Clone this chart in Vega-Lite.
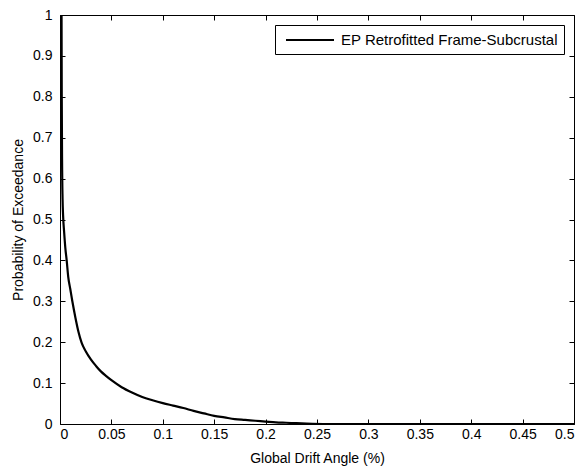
{
  "$schema": "https://vega.github.io/schema/vega-lite/v6.json",
  "width": 514,
  "height": 409,
  "autosize": {"type": "none"},
  "padding": {"left": 60, "top": 15, "right": 11, "bottom": 44},
  "background": "white",
  "config": {
    "font": "Liberation Sans",
    "view": {"stroke": "black", "strokeWidth": 1},
    "axis": {
      "grid": false,
      "domain": false,
      "tickColor": "black",
      "labelColor": "black",
      "titleColor": "black",
      "labelFont": "Liberation Sans",
      "titleFont": "Liberation Sans",
      "labelFontSize": 14,
      "titleFontSize": 14,
      "titleFontWeight": "normal",
      "tickSize": 5,
      "offset": -5
    }
  },
  "data": {
    "values": [
      {"x": 0.0015, "y": 1.0, "s": "EP Retrofitted Frame-Subcrustal"},
      {"x": 0.0017, "y": 0.8, "s": "EP Retrofitted Frame-Subcrustal"},
      {"x": 0.002, "y": 0.65, "s": "EP Retrofitted Frame-Subcrustal"},
      {"x": 0.0025, "y": 0.55, "s": "EP Retrofitted Frame-Subcrustal"},
      {"x": 0.003, "y": 0.51, "s": "EP Retrofitted Frame-Subcrustal"},
      {"x": 0.004, "y": 0.47, "s": "EP Retrofitted Frame-Subcrustal"},
      {"x": 0.0052, "y": 0.43, "s": "EP Retrofitted Frame-Subcrustal"},
      {"x": 0.0065, "y": 0.4, "s": "EP Retrofitted Frame-Subcrustal"},
      {"x": 0.008, "y": 0.36, "s": "EP Retrofitted Frame-Subcrustal"},
      {"x": 0.01, "y": 0.33, "s": "EP Retrofitted Frame-Subcrustal"},
      {"x": 0.012, "y": 0.3, "s": "EP Retrofitted Frame-Subcrustal"},
      {"x": 0.015, "y": 0.26, "s": "EP Retrofitted Frame-Subcrustal"},
      {"x": 0.018, "y": 0.225, "s": "EP Retrofitted Frame-Subcrustal"},
      {"x": 0.021, "y": 0.199, "s": "EP Retrofitted Frame-Subcrustal"},
      {"x": 0.025, "y": 0.178, "s": "EP Retrofitted Frame-Subcrustal"},
      {"x": 0.03, "y": 0.158, "s": "EP Retrofitted Frame-Subcrustal"},
      {"x": 0.035, "y": 0.142, "s": "EP Retrofitted Frame-Subcrustal"},
      {"x": 0.04, "y": 0.128, "s": "EP Retrofitted Frame-Subcrustal"},
      {"x": 0.045, "y": 0.117, "s": "EP Retrofitted Frame-Subcrustal"},
      {"x": 0.05, "y": 0.107, "s": "EP Retrofitted Frame-Subcrustal"},
      {"x": 0.06, "y": 0.09, "s": "EP Retrofitted Frame-Subcrustal"},
      {"x": 0.07, "y": 0.077, "s": "EP Retrofitted Frame-Subcrustal"},
      {"x": 0.08, "y": 0.066, "s": "EP Retrofitted Frame-Subcrustal"},
      {"x": 0.09, "y": 0.058, "s": "EP Retrofitted Frame-Subcrustal"},
      {"x": 0.1, "y": 0.051, "s": "EP Retrofitted Frame-Subcrustal"},
      {"x": 0.11, "y": 0.045, "s": "EP Retrofitted Frame-Subcrustal"},
      {"x": 0.12, "y": 0.039, "s": "EP Retrofitted Frame-Subcrustal"},
      {"x": 0.13, "y": 0.032, "s": "EP Retrofitted Frame-Subcrustal"},
      {"x": 0.14, "y": 0.026, "s": "EP Retrofitted Frame-Subcrustal"},
      {"x": 0.15, "y": 0.02, "s": "EP Retrofitted Frame-Subcrustal"},
      {"x": 0.16, "y": 0.016, "s": "EP Retrofitted Frame-Subcrustal"},
      {"x": 0.17, "y": 0.012, "s": "EP Retrofitted Frame-Subcrustal"},
      {"x": 0.18, "y": 0.01, "s": "EP Retrofitted Frame-Subcrustal"},
      {"x": 0.19, "y": 0.008, "s": "EP Retrofitted Frame-Subcrustal"},
      {"x": 0.2, "y": 0.006, "s": "EP Retrofitted Frame-Subcrustal"},
      {"x": 0.21, "y": 0.004, "s": "EP Retrofitted Frame-Subcrustal"},
      {"x": 0.22, "y": 0.003, "s": "EP Retrofitted Frame-Subcrustal"},
      {"x": 0.23, "y": 0.002, "s": "EP Retrofitted Frame-Subcrustal"},
      {"x": 0.24, "y": 0.001, "s": "EP Retrofitted Frame-Subcrustal"},
      {"x": 0.26, "y": 0.0, "s": "EP Retrofitted Frame-Subcrustal"},
      {"x": 0.5, "y": 0.0, "s": "EP Retrofitted Frame-Subcrustal"}
    ]
  },
  "resolve": {"axis": {"x": "independent", "y": "independent"}},
  "layer": [
    {
      "mark": {"type": "line", "strokeWidth": 2.2, "clip": true, "interpolate": "monotone"},
      "encoding": {
        "x": {
          "field": "x",
          "type": "quantitative",
          "scale": {"domain": [0, 0.5], "nice": false, "zero": false},
          "axis": {
            "title": "Global Drift Angle (%)",
            "values": [0, 0.05, 0.1, 0.15, 0.2, 0.25, 0.3, 0.35, 0.4, 0.45, 0.5],
            "format": "~g",
            "labelPadding": 3,
            "titlePadding": 10
          }
        },
        "y": {
          "field": "y",
          "type": "quantitative",
          "scale": {"domain": [0, 1], "nice": false},
          "axis": {
            "title": "Probability of Exceedance",
            "values": [0, 0.1, 0.2, 0.3, 0.4, 0.5, 0.6, 0.7, 0.8, 0.9, 1],
            "format": "~g",
            "labelPadding": 8,
            "titlePadding": 7
          }
        },
        "color": {
          "field": "s",
          "type": "nominal",
          "scale": {"range": ["black"]},
          "legend": {
            "title": null,
            "orient": "none",
            "legendX": 215,
            "legendY": 10,
            "symbolType": "M-0.5,0H5.5",
            "symbolSize": 256,
            "symbolStrokeWidth": 2,
            "symbolStrokeColor": "black",
            "symbolFillColor": "transparent",
            "labelFontSize": 15,
            "labelColor": "black",
            "labelFont": "Liberation Sans",
            "labelOffset": 42,
            "padding": 6,
            "fillColor": "white",
            "strokeColor": "black",
            "labelLimit": 400
          }
        }
      }
    },
    {
      "mark": {"type": "line", "opacity": 0, "clip": true},
      "encoding": {
        "x": {
          "field": "x",
          "type": "quantitative",
          "axis": {
            "orient": "top",
            "title": null,
            "labels": false,
            "values": [0, 0.05, 0.1, 0.15, 0.2, 0.25, 0.3, 0.35, 0.4, 0.45, 0.5]
          }
        },
        "y": {
          "field": "y",
          "type": "quantitative",
          "axis": {
            "orient": "right",
            "title": null,
            "labels": false,
            "values": [0, 0.1, 0.2, 0.3, 0.4, 0.5, 0.6, 0.7, 0.8, 0.9, 1]
          }
        }
      }
    }
  ]
}
